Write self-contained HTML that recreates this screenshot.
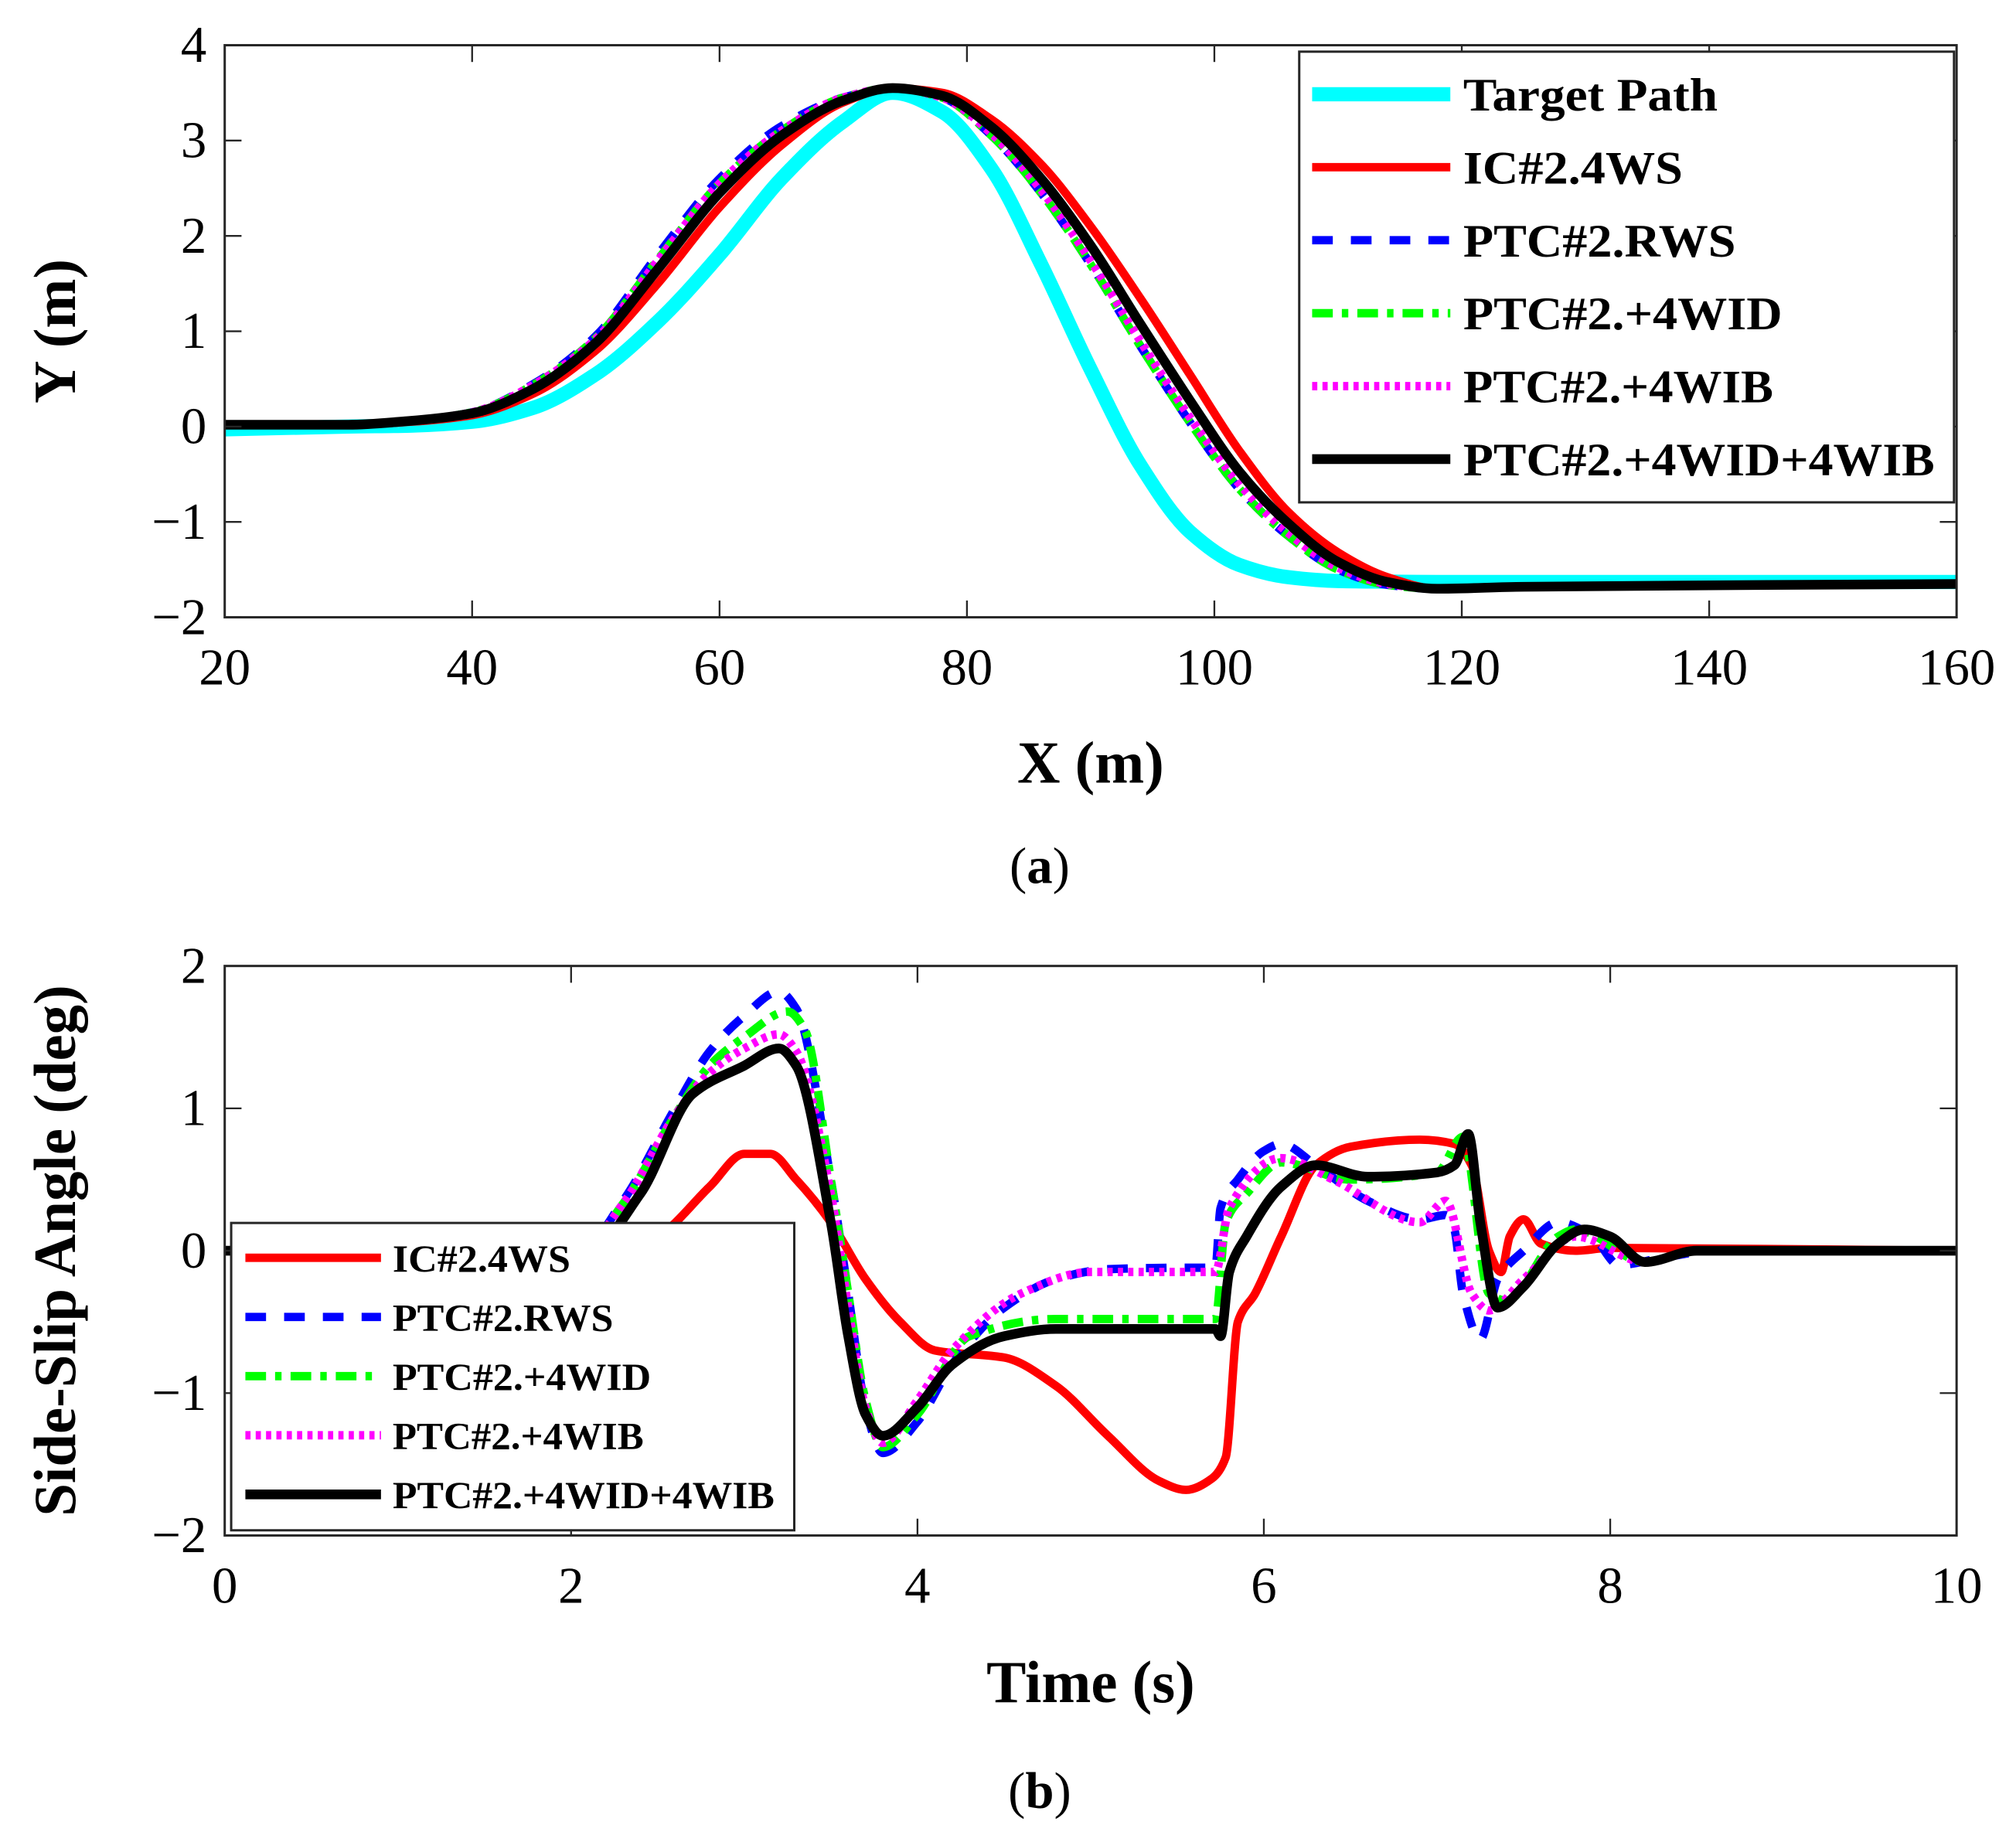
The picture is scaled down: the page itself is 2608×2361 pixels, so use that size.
<!DOCTYPE html>
<html><head><meta charset="utf-8"><style>html,body{margin:0;padding:0;background:#fff}svg{display:block}text{font-family:"Liberation Serif",serif}</style></head>
<body>
<svg id="fig" width="2608" height="2361" viewBox="0 0 1561 1413.2" preserveAspectRatio="none" xmlns="http://www.w3.org/2000/svg">
<g id="top"></g>
<g id="bot"></g>
<text x="805" y="684" font-size="40" text-anchor="middle">(<tspan font-weight="bold">a</tspan>)</text>
<text x="805" y="1400" font-size="40" text-anchor="middle">(<tspan font-weight="bold">b</tspan>)</text>
</svg>
<script>
// ---- top chart data ----
const topXTicks = [20,40,60,80,100,120,140,160];
const topYTicks = [4,3,2,1,0,-1,-2];
const targetX = [20,30,35,40,45,50,55,60,65,70,74,78,82,86,90,94,98,102,106,110,120,160];
const targetY = [-0.03,0,0.01,0.05,0.2,0.55,1.1,1.8,2.6,3.2,3.5,3.3,2.7,1.7,0.6,-0.4,-1.1,-1.45,-1.58,-1.62,-1.63,-1.63];
const icX = [20,30,35,40,45,50,55,60,65,70,74,78,82,86,90,94,98,102,106,110,114,118,125,160];
const icY = [0.02,0.02,0.05,0.12,0.35,0.8,1.5,2.3,2.95,3.4,3.55,3.5,3.22,2.75,2.1,1.35,0.55,-0.25,-0.9,-1.32,-1.58,-1.7,-1.68,-1.65];
const rwsY = [0.02,0.02,0.06,0.15,0.45,0.95,1.8,2.6,3.15,3.45,3.55,3.45,3.05,2.45,1.7,0.85,0.05,-0.65,-1.15,-1.5,-1.66,-1.7,-1.68,-1.65];
const widY = [0.02,0.02,0.06,0.15,0.44,0.93,1.75,2.55,3.1,3.45,3.55,3.45,3.05,2.45,1.7,0.85,0.05,-0.65,-1.15,-1.5,-1.66,-1.7,-1.68,-1.65];
const wibY = [0.02,0.02,0.06,0.15,0.44,0.92,1.74,2.55,3.1,3.45,3.55,3.45,3.07,2.48,1.74,0.9,0.1,-0.6,-1.12,-1.48,-1.65,-1.7,-1.68,-1.65];
const bothY = [0.02,0.02,0.06,0.14,0.4,0.88,1.65,2.45,3.05,3.42,3.55,3.47,3.14,2.6,1.9,1.08,0.28,-0.47,-1.02,-1.42,-1.63,-1.7,-1.68,-1.65];
// ---- bottom chart data ----
const botXTicks = [0,2,4,6,8,10];
const botYTicks = [2,1,0,-1,-2];
const icT = [0,2.3,2.5,2.8,3.0,3.15,3.3,3.5,3.7,3.9,4.1,4.5,4.8,5.1,5.4,5.55,5.7,5.78,5.85,5.95,6.1,6.3,6.5,6.9,7.1,7.2,7.3,7.37,7.42,7.5,7.6,7.8,8,10];
const icV = [0,0,0.1,0.45,0.68,0.68,0.5,0.2,-0.2,-0.5,-0.7,-0.75,-0.95,-1.3,-1.62,-1.68,-1.6,-1.45,-0.5,-0.3,0.1,0.6,0.73,0.78,0.75,0.6,0,-0.15,0.1,0.22,0.05,0,0.02,0];
const rwsT = [0,2.05,2.3,2.6,2.8,3.0,3.2,3.3,3.5,3.6,3.7,3.8,4.0,4.2,4.5,4.8,5.1,5.5,5.72,5.75,5.85,6.0,6.1,6.3,6.6,6.9,7.05,7.1,7.15,7.25,7.35,7.5,7.7,7.9,8.05,8.3,8.6,10];
const rwsV = [0,0,0.35,1.0,1.4,1.65,1.82,1.7,0.5,-0.3,-1.1,-1.42,-1.2,-0.8,-0.4,-0.2,-0.13,-0.12,-0.12,0.3,0.5,0.7,0.75,0.6,0.35,0.22,0.25,0.15,-0.3,-0.62,-0.2,0,0.2,0.1,-0.1,-0.05,0,0];
const widT = [0,2.05,2.3,2.6,2.8,3.0,3.25,3.35,3.5,3.6,3.7,3.8,4.0,4.3,4.8,5.72,5.78,5.9,6.1,6.5,7.0,7.15,7.3,7.4,7.7,7.8,8.2,8.5,10];
const widV = [0,0,0.33,0.95,1.3,1.5,1.68,1.55,0.5,-0.3,-1.05,-1.38,-1.15,-0.6,-0.48,-0.48,0.2,0.4,0.62,0.5,0.55,0.8,-0.3,-0.35,0.1,0.15,-0.08,0,0];
const wibT = [0,2.05,2.3,2.6,2.8,3.0,3.2,3.3,3.5,3.6,3.7,3.8,4.0,4.2,4.6,5.0,5.72,5.8,6.1,6.4,6.9,7.05,7.2,7.3,7.5,7.8,8.2,8.5,10];
const wibV = [0,0,0.33,0.95,1.25,1.42,1.52,1.4,0.4,-0.4,-1.1,-1.35,-1.05,-0.7,-0.3,-0.15,-0.15,0.3,0.65,0.5,0.2,0.35,-0.3,-0.42,-0.2,0.1,-0.08,0,0];
const botT = [0,2.1,2.4,2.7,3.0,3.2,3.3,3.5,3.6,3.7,3.8,4.0,4.2,4.5,4.8,5.72,5.75,5.8,5.9,6.1,6.3,6.6,7.0,7.1,7.18,7.25,7.35,7.5,7.7,7.85,8.0,8.2,8.5,10];
const botV = [0,0,0.4,1.1,1.3,1.42,1.3,0.2,-0.6,-1.15,-1.3,-1.1,-0.8,-0.6,-0.55,-0.55,-0.6,-0.15,0.1,0.45,0.6,0.52,0.55,0.6,0.82,0.2,-0.4,-0.25,0.05,0.15,0.1,-0.08,0,0];

const NS='http://www.w3.org/2000/svg';
function mk(parent,tag,attrs){const e=document.createElementNS(NS,tag);for(const k in attrs)e.setAttribute(k,attrs[k]);parent.appendChild(e);return e;}
// monotone cubic interpolation (Fritsch-Carlson)
function smooth(P){
  const n=P.length, d=[], m=[];
  for(let i=0;i<n-1;i++){const dx=P[i+1][0]-P[i][0];d.push(dx?(P[i+1][1]-P[i][1])/dx:0);}
  for(let i=0;i<n;i++){
    if(i===0)m.push(d[0]);else if(i===n-1)m.push(d[n-2]);
    else if(d[i-1]*d[i]<=0)m.push(0);
    else{const h0=P[i][0]-P[i-1][0],h1=P[i+1][0]-P[i][0];m.push(3*(h0+h1)/((2*h1+h0)/d[i-1]+(h1+2*h0)/d[i]));}
  }
  let s='M'+P[0][0].toFixed(1)+','+P[0][1].toFixed(1);
  for(let i=0;i<n-1;i++){
    const h=(P[i+1][0]-P[i][0])/3;
    s+=' C'+(P[i][0]+h).toFixed(1)+','+(P[i][1]+m[i]*h).toFixed(1)+' '+(P[i+1][0]-h).toFixed(1)+','+(P[i+1][1]-m[i+1]*h).toFixed(1)+' '+P[i+1][0].toFixed(1)+','+P[i+1][1].toFixed(1);
  }
  return s;
}
function chart(g,box,xd,yd,xt,yt,xlab,ylab,series,legend){
  const sx=v=>box.l+(v-xd[0])/(xd[1]-xd[0])*(box.r-box.l);
  const sy=v=>box.b-(v-yd[0])/(yd[1]-yd[0])*(box.b-box.t);
  const cp=mk(g,'clipPath',{id:g.id+'clip'});mk(cp,'rect',{x:box.l,y:box.t,width:box.r-box.l,height:box.b-box.t});
  const sg=mk(g,'g',{'clip-path':'url(#'+g.id+'clip)'});
  series.forEach(s=>{
    const P=s.x.map((x,i)=>[sx(x),sy(s.y[i])]);
    const p=mk(sg,'path',{d:smooth(P),fill:'none',stroke:s.c,'stroke-width':s.w,'stroke-linejoin':'round','stroke-dasharray':s.d||'none'});
    
    
  });
  const fr=mk(g,'rect',{x:box.l,y:box.t,width:box.r-box.l,height:box.b-box.t,fill:'none',stroke:'#262626','stroke-width':1.8});
  
  
  xt.forEach(v=>{const x=sx(v);
    mk(g,'line',{x1:x,x2:x,y1:box.b,y2:box.b-13,stroke:'#262626','stroke-width':1.4});
    mk(g,'line',{x1:x,x2:x,y1:box.t,y2:box.t+13,stroke:'#262626','stroke-width':1.4});
    const t=mk(g,'text',{x:x,y:box.b+52,'font-size':40,'text-anchor':'middle'});t.textContent=v;
    
    
  });
  yt.forEach(v=>{const y=sy(v);
    mk(g,'line',{x1:box.l,x2:box.l+13,y1:y,y2:y,stroke:'#262626','stroke-width':1.4});
    mk(g,'line',{x1:box.r,x2:box.r-13,y1:y,y2:y,stroke:'#262626','stroke-width':1.4});
    const t=mk(g,'text',{x:box.l-14,y:y+13,'font-size':40,'text-anchor':'end'});t.textContent=v<0?'\u2212'+(-v):v;
    
    
  });
  const xl=mk(g,'text',{x:(box.l+box.r)/2,y:xlab.y,'font-size':46,'font-weight':'bold','text-anchor':'middle'});xl.textContent=xlab.t;
  
  
  const yl=mk(g,'text',{x:0,y:0,'font-size':46,'font-weight':'bold','text-anchor':'middle',transform:'translate('+ylab.x+','+(box.t+box.b)/2+') rotate(-90)'});yl.textContent=ylab.t;
  
  
  const L=legend;
  const lb=mk(g,'rect',{x:L.x,y:L.y,width:L.w,height:L.h,fill:'#fff',stroke:'#262626','stroke-width':1.8});
  
  
  series.filter(s=>s.label).forEach((s,i)=>{const y=L.y0+i*L.dy;
    const ln=mk(g,'line',{x1:L.lx1,x2:L.lx2,y1:y,y2:y,stroke:s.c,'stroke-width':s.w,'stroke-dasharray':s.d||'none'});
    
    
    const t=mk(g,'text',{x:L.tx,y:y+L.fs*0.35,'font-size':L.fs,'font-weight':'bold',textLength:s.tl*L.k,lengthAdjust:'spacingAndGlyphs'});t.textContent=s.label;
    
    
  });
}
const topSeries=[
 {name:'target-path',label:'Target Path',x:targetX,y:targetY,c:'#00ffff',w:11,tl:197},
 {name:'ic-4ws',label:'IC#2.4WS',x:icX,y:icY,c:'#ff0000',w:6.5,tl:170},
 {name:'ptc-rws',label:'PTC#2.RWS',x:icX,y:rwsY,c:'#0000ff',w:6.5,d:'16,14',tl:211},
 {name:'ptc-4wid',label:'PTC#2.+4WID',x:icX,y:widY,c:'#00ff00',w:6.5,d:'16,7,5,7',tl:247},
 {name:'ptc-4wib',label:'PTC#2.+4WIB',x:icX,y:wibY,c:'#ff00ff',w:6.5,d:'4,4',tl:240},
 {name:'ptc-4wid-4wib',label:'PTC#2.+4WID+4WIB',x:icX,y:bothY,c:'#000000',w:7.5,tl:365}];
chart(document.getElementById('top'),{l:174,r:1515,t:35,b:478},[20,160],[-2,4],topXTicks,topYTicks,
 {t:'X (m)',y:606},{t:'Y (m)',x:58},topSeries,
 {x:1006,y:40,w:507,h:349,y0:73,dy:56.5,lx1:1016,lx2:1123,tx:1133,fs:36,k:1});
const botSeries=[
 {name:'ic-4ws',label:'IC#2.4WS',x:icT,y:icV,c:'#ff0000',w:6.5,tl:170},
 {name:'ptc-rws',label:'PTC#2.RWS',x:rwsT,y:rwsV,c:'#0000ff',w:6.5,d:'16,14',tl:211},
 {name:'ptc-4wid',label:'PTC#2.+4WID',x:widT,y:widV,c:'#00ff00',w:6.5,d:'16,7,5,7',tl:247},
 {name:'ptc-4wib',label:'PTC#2.+4WIB',x:wibT,y:wibV,c:'#ff00ff',w:6.5,d:'4,4',tl:240},
 {name:'ptc-4wid-4wib',label:'PTC#2.+4WID+4WIB',x:botT,y:botV,c:'#000000',w:7.5,tl:365}];
chart(document.getElementById('bot'),{l:174,r:1515,t:748,b:1189},[0,10],[-2,2],botXTicks,botYTicks,
 {t:'Time (s)',y:1318},{t:'Side-Slip Angle (deg)',x:58},botSeries,
 {x:179,y:947,w:436,h:238,y0:974,dy:45.8,lx1:190,lx2:295,tx:304,fs:30,k:0.81});
</script>
</body></html>
